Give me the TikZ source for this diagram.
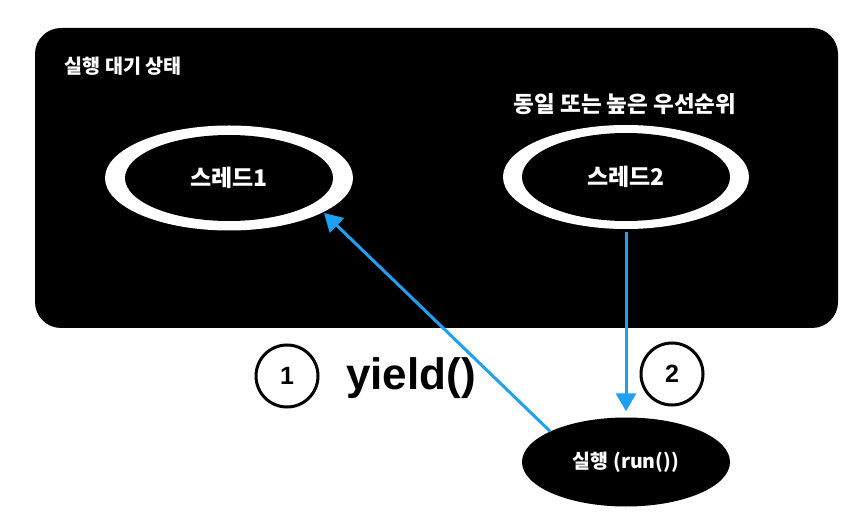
\documentclass[tikz,border=0pt]{standalone}
\usepackage{fontspec}
\setmainfont{Liberation Sans}
\newfontfamily\kr{Noto Sans CJK KR}
\usepackage{tikz}
\usetikzlibrary{positioning, arrows.meta, shapes.geometric}
\definecolor{FlowBlue}{RGB}{30,160,245}
\tikzstyle{arrow} = [line width=3pt, FlowBlue, -{Triangle[length=18pt,width=20pt]}]
\tikzstyle{ring} = [ellipse, fill=white, inner sep=0pt]
\tikzstyle{core} = [ellipse, fill=black, inner sep=0pt, text=white, font=\kr\bfseries\fontsize{23}{26}\selectfont]
\tikzstyle{num} = [circle, draw, line width=3pt, minimum size=62pt, font=\bfseries\fontsize{25}{28}\selectfont]

\begin{document}
\begin{tikzpicture}[x=1pt, y=-1pt]
    \useasboundingbox (0,0) rectangle (856,526);
    % ready queue box
    \node[fill=black, rounded corners=26pt, minimum width=803pt, minimum height=300pt, inner sep=0pt] (ready) at (436.5,178) {};
    \node[text=white, font=\kr\bfseries\fontsize{19.6}{22}\selectfont, anchor=west] (readylbl) at (61,66) {실행 대기 상태};
    \node[text=white, font=\kr\bfseries\fontsize{22.5}{26}\selectfont] (prio) at (625,104) {동일 또는 높은 우선순위};

    % threads
    \node[ring, minimum width=248pt, minimum height=105pt] (t1) at (229,178) {};
    \node[core, minimum width=208pt, minimum height=86pt] (t1in) at (t1) {스레드1};
    \node[ring, minimum width=246pt, minimum height=104pt] (t2) at (626,177) {};
    \node[core, minimum width=208pt, minimum height=88pt] (t2in) at (t2) {스레드2};

    \node[ellipse, fill=black, text=white, minimum width=208pt, minimum height=89pt, inner sep=0pt, font=\kr\bfseries\fontsize{19.5}{22}\selectfont] (run) at (626,462) {실행 (run())};

    \node[num] (n1) at (287,376) {1};
    \node[font=\bfseries\fontsize{44}{48}\selectfont] (yield) at (411,378) {yield()};
    \node[num] (n2) at (672,374) {2};

    \draw[arrow, shorten >=1pt] (run.158) -- (t1.-20);
    \draw[arrow, shorten <=3pt, shorten >=6pt] (t2.south) -- (run.north);
\end{tikzpicture}
\end{document}
